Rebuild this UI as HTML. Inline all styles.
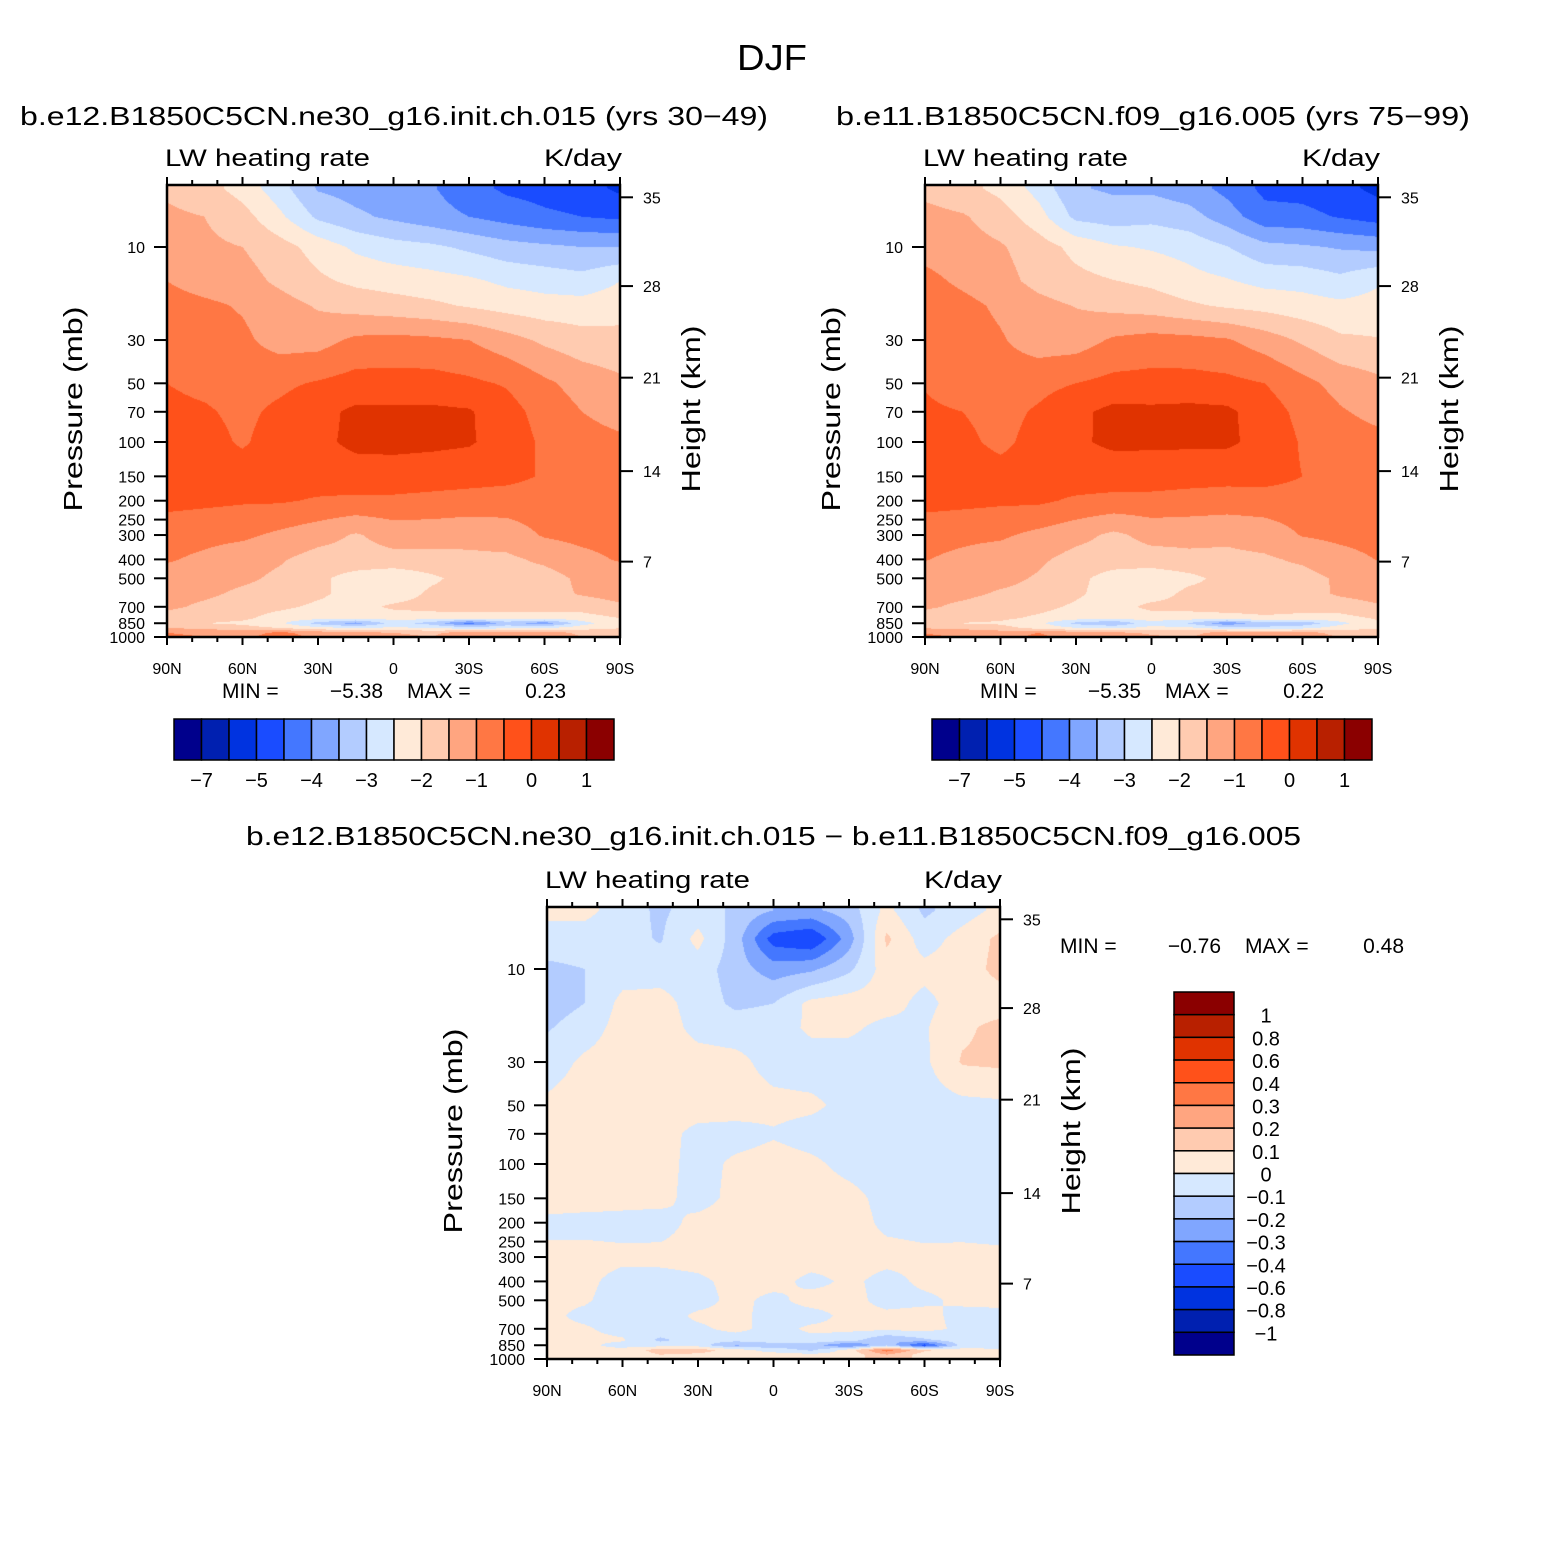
<!DOCTYPE html>
<html><head><meta charset="utf-8">
<style>
html,body{margin:0;padding:0;background:#fff;}
#wrap{position:relative;width:1547px;height:1544px;overflow:hidden;background:#fff;}
canvas{position:absolute;}
svg{position:absolute;left:0;top:0;}
text{font-family:"Liberation Sans",sans-serif;fill:#000;}
</style></head>
<body>
<div id="wrap">
<canvas id="c1"></canvas>
<canvas id="c2"></canvas>
<canvas id="c3"></canvas>
<svg id="ov" width="1547" height="1544"></svg>
</div>
<script>
// ---- data ----
const lats = [90,75,60,45,30,15,0,-15,-30,-45,-60,-75,-90];
const pressures = [5,7,10,15,20,30,50,70,100,150,200,300,400,500,600,700,800,850,900,950,1000];
const pTicks = [10,30,50,70,100,150,200,250,300,400,500,700,850,1000];
const zTicks = [7,14,21,28,35];
const latTicks = [90,60,30,0,-30,-60,-90];
const latTickLabels = ["90N","60N","30N","0","30S","60S","90S"];
const levelsAbs = [-7,-6,-5,-4.5,-4,-3.5,-3,-2.5,-2,-1.5,-1,-0.5,0,0.5,1];
const levelsAbsLabels = ["-7","","-5","","-4","","-3","","-2","","-1","","0","","1"];
const levelsDiff = [-1,-0.8,-0.6,-0.4,-0.3,-0.2,-0.1,0,0.1,0.2,0.3,0.4,0.6,0.8,1];
const levelsDiffLabels = ["-1","-0.8","-0.6","-0.4","-0.3","-0.2","-0.1","0","0.1","0.2","0.3","0.4","0.6","0.8","1"];
const colors = ["#00008c","#0020b0","#0033e0","#1a4cff","#4477ff","#80a6ff","#b3ccff","#d6e8ff","#ffead8","#ffcbb0","#ffa580","#ff7744","#ff511a","#e03300","#b82000","#8b0000"];
const case1 = [
[-1.6,-1.8,-2.2,-2.8,-3.55,-3.7,-3.8,-3.95,-4.3,-4.6,-4.7,-4.8,-5.1],
[-1.4,-1.5,-1.8,-2.4,-3.1,-3.4,-3.6,-3.8,-4.0,-4.2,-4.4,-4.5,-4.6],
[-1.3,-1.4,-1.5,-1.8,-2.2,-2.6,-2.8,-2.9,-3.1,-3.3,-3.4,-3.5,-3.5],
[-1.0,-1.2,-1.3,-1.6,-1.9,-2.1,-2.2,-2.3,-2.4,-2.6,-2.7,-2.8,-2.5],
[-0.8,-0.9,-1.05,-1.3,-1.55,-1.7,-1.8,-1.9,-2.05,-2.2,-2.3,-2.3,-2.2],
[-0.7,-0.75,-0.9,-1.2,-1.2,-0.9,-0.85,-0.9,-1.0,-1.3,-1.6,-1.8,-1.85],
[-0.5,-0.6,-0.7,-0.6,-0.45,-0.3,-0.3,-0.3,-0.4,-0.55,-0.9,-1.2,-1.4],
[-0.4,-0.45,-0.6,-0.4,-0.15,0.1,0.1,0.1,0.05,-0.3,-0.7,-1.0,-1.2],
[-0.3,-0.35,-0.55,-0.3,-0.1,0.1,0.12,0.1,0.05,-0.2,-0.6,-0.8,-0.9],
[-0.25,-0.25,-0.3,-0.3,-0.25,-0.2,-0.2,-0.25,-0.3,-0.35,-0.55,-0.7,-0.75],
[-0.35,-0.4,-0.45,-0.45,-0.55,-0.6,-0.6,-0.65,-0.7,-0.75,-0.75,-0.8,-0.85],
[-0.8,-0.85,-0.9,-1.1,-1.3,-1.55,-1.3,-1.3,-1.35,-1.25,-0.95,-0.85,-0.8],
[-0.95,-1.1,-1.3,-1.45,-1.7,-1.7,-1.65,-1.65,-1.6,-1.6,-1.4,-1.15,-0.95],
[-1.2,-1.3,-1.4,-1.6,-1.9,-2.2,-2.4,-2.1,-1.8,-1.7,-1.7,-1.4,-1.3],
[-1.3,-1.4,-1.6,-1.7,-1.9,-2.2,-2.3,-1.9,-1.8,-1.7,-1.7,-1.45,-1.3],
[-1.4,-1.6,-1.8,-1.9,-2.1,-2.2,-1.9,-1.8,-1.7,-1.7,-1.75,-1.8,-1.6],
[-1.7,-1.8,-1.9,-2.2,-2.3,-2.4,-2.3,-2.3,-2.3,-2.3,-2.3,-2.2,-2.0],
[-1.8,-2.0,-2.1,-2.4,-3.2,-3.7,-2.8,-3.2,-4.2,-3.3,-3.8,-2.7,-2.1],
[-1.5,-1.6,-1.8,-2.0,-2.3,-2.5,-2.4,-2.5,-2.7,-2.6,-2.5,-2.2,-2.0],
[-1.0,-1.1,-1.2,-0.9,-1.2,-1.4,-1.5,-1.6,-1.3,-1.2,-1.3,-1.6,-1.8],
[-0.9,-1.0,-1.1,-0.8,-1.1,-1.3,-1.4,-1.5,-1.2,-1.1,-1.2,-1.5,-1.7]];
const case2 = [
[-1.63,-1.83,-2.15,-2.68,-3.45,-3.58,-3.6,-3.78,-4.15,-4.63,-4.68,-4.85,-5.13],
[-1.35,-1.45,-1.74,-2.29,-3.13,-3.25,-3.15,-3.3,-3.75,-4.32,-4.35,-4.54,-4.72],
[-1.18,-1.3,-1.45,-1.75,-2.15,-2.45,-2.55,-2.68,-2.98,-3.35,-3.43,-3.55,-3.63],
[-0.85,-1.1,-1.33,-1.64,-1.85,-1.98,-2.1,-2.33,-2.45,-2.64,-2.67,-2.85,-2.55],
[-0.69,-0.85,-1.09,-1.35,-1.52,-1.65,-1.75,-1.92,-2.07,-2.17,-2.29,-2.38,-2.33],
[-0.65,-0.77,-0.95,-1.25,-1.24,-0.93,-0.81,-0.85,-0.95,-1.25,-1.58,-1.91,-1.97],
[-0.52,-0.65,-0.75,-0.65,-0.5,-0.35,-0.33,-0.32,-0.37,-0.5,-0.85,-1.17,-1.38],
[-0.45,-0.5,-0.65,-0.44,-0.12,0.14,0.11,0.14,0.1,-0.25,-0.65,-0.95,-1.15],
[-0.35,-0.4,-0.6,-0.34,-0.06,0.08,0.08,0.08,0.08,-0.15,-0.55,-0.75,-0.85],
[-0.29,-0.29,-0.33,-0.33,-0.21,-0.23,-0.25,-0.3,-0.33,-0.32,-0.5,-0.65,-0.7],
[-0.33,-0.37,-0.42,-0.41,-0.58,-0.65,-0.65,-0.7,-0.74,-0.73,-0.72,-0.76,-0.81],
[-0.82,-0.88,-0.92,-1.13,-1.34,-1.6,-1.35,-1.35,-1.39,-1.28,-0.97,-0.88,-0.82],
[-0.98,-1.12,-1.27,-1.41,-1.68,-1.73,-1.69,-1.62,-1.62,-1.57,-1.42,-1.18,-0.98],
[-1.22,-1.31,-1.36,-1.55,-1.86,-2.23,-2.37,-2.14,-1.83,-1.67,-1.68,-1.42,-1.32],
[-1.32,-1.38,-1.56,-1.65,-1.92,-2.23,-2.26,-1.86,-1.83,-1.72,-1.73,-1.42,-1.28],
[-1.42,-1.61,-1.77,-1.86,-2.08,-2.23,-1.86,-1.82,-1.72,-1.73,-1.78,-1.78,-1.57],
[-1.72,-1.82,-1.91,-2.08,-2.25,-2.34,-2.26,-2.27,-2.25,-2.1,-2.18,-2.16,-1.95],
[-1.83,-2.02,-2.07,-2.35,-3.15,-3.48,-2.65,-3.05,-3.88,-3.18,-3.35,-2.65,-2.05],
[-1.53,-1.63,-1.82,-2.15,-2.45,-2.55,-2.35,-2.38,-2.75,-2.95,-2.62,-2.23,-2.02],
[-1.02,-1.13,-1.23,-1.0,-1.28,-1.43,-1.55,-1.63,-1.33,-1.4,-1.35,-1.63,-1.82],
[-0.92,-1.03,-1.13,-0.9,-1.18,-1.33,-1.45,-1.53,-1.23,-1.3,-1.25,-1.53,-1.72]];
const diffVals = [
[0.03,0.03,-0.05,-0.12,-0.05,-0.12,-0.2,-0.22,-0.15,0.03,-0.12,-0.05,0.03],
[-0.05,-0.05,-0.06,-0.11,0.03,-0.15,-0.45,-0.5,-0.25,0.12,-0.05,0.04,0.12],
[-0.12,-0.1,-0.05,-0.05,-0.05,-0.15,-0.25,-0.22,-0.12,0.05,0.03,0.05,0.13],
[-0.15,-0.1,0.03,0.04,-0.05,-0.12,-0.1,0.03,0.05,0.04,-0.03,0.05,0.05],
[-0.11,-0.05,0.04,0.05,-0.03,-0.05,-0.05,0.02,0.02,-0.03,-0.01,0.08,0.13],
[-0.05,0.02,0.05,0.05,0.04,0.03,-0.04,-0.05,-0.05,-0.05,-0.02,0.11,0.12],
[0.02,0.05,0.05,0.05,0.05,0.05,0.03,0.02,-0.03,-0.05,-0.05,-0.03,-0.02],
[0.05,0.05,0.05,0.04,-0.03,-0.04,-0.01,-0.04,-0.05,-0.05,-0.05,-0.05,-0.05],
[0.05,0.05,0.05,0.04,-0.04,0.02,0.04,0.02,-0.03,-0.05,-0.05,-0.05,-0.05],
[0.04,0.04,0.03,0.03,-0.04,0.03,0.05,0.05,0.03,-0.03,-0.05,-0.05,-0.05],
[-0.02,-0.03,-0.03,-0.04,0.03,0.05,0.05,0.05,0.04,-0.02,-0.03,-0.04,-0.04],
[0.02,0.03,0.02,0.03,0.04,0.05,0.05,0.05,0.04,0.03,0.02,0.03,0.02],
[0.03,0.02,-0.03,-0.04,-0.02,0.03,0.04,-0.03,0.02,-0.03,0.02,0.03,0.03],
[0.02,0.01,-0.04,-0.05,-0.04,0.03,-0.03,0.04,0.03,-0.03,-0.02,0.02,0.02],
[0.02,-0.02,-0.04,-0.05,0.02,0.03,-0.04,-0.04,0.03,0.02,0.03,-0.03,-0.02],
[0.02,0.01,-0.03,-0.04,-0.02,0.03,-0.04,0.02,0.02,0.03,0.03,-0.02,-0.03],
[0.02,0.02,0.01,-0.12,-0.05,-0.06,-0.04,-0.03,-0.05,-0.2,-0.12,-0.04,-0.05],
[0.03,0.02,-0.03,-0.05,-0.05,-0.22,-0.15,-0.15,-0.32,-0.12,-0.45,-0.05,-0.05],
[0.03,0.03,0.02,0.15,0.15,0.05,-0.05,-0.12,0.05,0.35,0.12,0.03,0.02],
[0.02,0.03,0.03,0.1,0.08,0.03,0.05,0.03,0.03,0.2,0.05,0.03,0.02],
[0.02,0.03,0.03,0.1,0.08,0.03,0.05,0.03,0.03,0.2,0.05,0.03,0.02]];

// ---- layout ----
const NS = "http://www.w3.org/2000/svg";
const ov = document.getElementById('ov');
const PW = 453, PH = 452;
function xOf(p, lat){ return p.x0 + (90 - lat) / 180 * PW; }
function yOf(p, pr){ return p.y0 + PH - 195 * Math.log10(1000 / pr); }
function zToP(z){
  if (z <= 11) return 1013.25 * Math.pow(1 - 6.5 * z / 288.15, 5.2559);
  if (z <= 20) return 226.32 * Math.exp(-(z - 11) / 6.3416);
  return 54.75 * Math.pow(216.65 / (216.65 + (z - 20)), 34.163);
}
function el(tag, attrs, name, inter){
  const e = document.createElementNS(NS, tag);
  for (const k in attrs) e.setAttribute(k, attrs[k]);
  
  
  ov.appendChild(e);
  return e;
}
function txt(x, y, s, size, anchor, name, extra){
  const a = {x:x, y:y, 'font-size':size, 'text-anchor':anchor || 'start'};
  if (extra) for (const k in extra) a[k] = extra[k];
  const t = el('text', a, name, false);
  t.textContent = s.replace(/-/g, '\u2212');
  return t;
}
function bandIndex(v, levels){ let i = 0; while (i < levels.length && v > levels[i]) i++; return i; }

const logP = pressures.map(p => Math.log10(p));
function drawField(cid, p, grid, levels){
  const cv = document.getElementById(cid);
  cv.width = PW; cv.height = PH;
  cv.style.left = p.x0 + 'px'; cv.style.top = p.y0 + 'px';
  const ctx = cv.getContext('2d');
  const img = ctx.createImageData(PW, PH);
  const rgb = colors.map(c => [parseInt(c.substr(1,2),16), parseInt(c.substr(3,2),16), parseInt(c.substr(5,2),16)]);
  for (let py = 0; py < PH; py++){
    const lp = 3 - (PH - py - 0.5) / 195;
    let r = 0;
    while (r < logP.length - 2 && lp > logP[r+1]) r++;
    let fr = (lp - logP[r]) / (logP[r+1] - logP[r]);
    fr = Math.max(0, Math.min(1, fr));
    for (let px = 0; px < PW; px++){
      const fc = (px + 0.5) / PW * (lats.length - 1);
      let c = Math.min(lats.length - 2, Math.floor(fc));
      const fx = fc - c;
      const v = (grid[r][c] * (1 - fx) + grid[r][c+1] * fx) * (1 - fr) + (grid[r+1][c] * (1 - fx) + grid[r+1][c+1] * fx) * fr;
      const col = rgb[bandIndex(v, levels)];
      const o = (py * PW + px) * 4;
      img.data[o] = col[0]; img.data[o+1] = col[1]; img.data[o+2] = col[2]; img.data[o+3] = 255;
    }
  }
  ctx.putImageData(img, 0, 0);
}

function drawAxes(p, prefix){
  const L = p.x0, T = p.y0, R = p.x0 + PW, B = p.y0 + PH;
  el('rect', {x:L, y:T, width:PW, height:PH, fill:'none', stroke:'#000', 'stroke-width':2.5}, prefix + '-plot-frame', false);
  for (let lat = 90; lat >= -90; lat -= 10){
    const x = xOf(p, lat), major = lat % 30 === 0, len = major ? 8 : 5;
    el('line', {x1:x, y1:B, x2:x, y2:B + len, stroke:'#000', 'stroke-width':2}, prefix + '-x-tick', false);
    el('line', {x1:x, y1:T, x2:x, y2:T - len, stroke:'#000', 'stroke-width':2}, prefix + '-x-tick-top', false);
  }
  latTicks.forEach((lat, i) => txt(xOf(p, lat), B + 37, latTickLabels[i], 16, 'middle', prefix + '-x-tick-label'));
  pTicks.forEach(pr => {
    const y = yOf(p, pr);
    el('line', {x1:L - 13, y1:y, x2:L, y2:y, stroke:'#000', 'stroke-width':2}, prefix + '-y-tick', false);
    txt(L - 22, y + 6, String(pr), 16, 'end', prefix + '-y-tick-label');
  });
  zTicks.forEach(z => {
    const y = yOf(p, zToP(z));
    el('line', {x1:R, y1:y, x2:R + 13, y2:y, stroke:'#000', 'stroke-width':2}, prefix + '-height-tick', false);
    txt(R + 23, y + 6, String(z), 16, 'start', prefix + '-height-tick-label');
  });
  txt(L - 2, T - 19, 'LW heating rate', 24, 'start', prefix + '-variable-label', {textLength:205, lengthAdjust:'spacingAndGlyphs'});
  txt(R + 2, T - 19, 'K/day', 24, 'end', prefix + '-units-label', {textLength:78, lengthAdjust:'spacingAndGlyphs'});
  const cy = T + PH / 2 - 2;
  txt(L - 85, cy, 'Pressure (mb)', 26, 'middle', prefix + '-y-axis-title', {transform:'rotate(-90 ' + (L - 85) + ' ' + cy + ')', textLength:205, lengthAdjust:'spacingAndGlyphs'});
  txt(R + 80, cy, 'Height (km)', 26, 'middle', prefix + '-height-axis-title', {transform:'rotate(-90 ' + (R + 80) + ' ' + cy + ')', textLength:167, lengthAdjust:'spacingAndGlyphs'});
}

function hColorbar(x0, y0, w, h, prefix){
  const bw = w / colors.length;
  colors.forEach((c, i) => {
    el('rect', {x:x0 + i * bw, y:y0, width:bw, height:h, fill:c, stroke:'#000', 'stroke-width':1.5}, prefix + '-colorbar-box', false);
  });
  levelsAbsLabels.forEach((s, i) => { if (s) txt(x0 + (i + 1) * bw, y0 + 68, s, 20, 'middle', prefix + '-colorbar-label'); });
}
function vColorbar(x0, y0, w, h){
  const bh = h / colors.length;
  colors.slice().reverse().forEach((c, i) => {
    el('rect', {x:x0, y:y0 + i * bh, width:w, height:bh, fill:c, stroke:'#000', 'stroke-width':1.5}, 'diff-colorbar-box', false);
  });
  levelsDiffLabels.slice().reverse().forEach((s, i) => txt(x0 + 92, y0 + (i + 1) * bh + 8, s, 20, 'middle', 'diff-colorbar-label'));
}

const P1 = {x0:167, y0:185}, P2 = {x0:925, y0:185}, P3 = {x0:547, y0:907};
drawField('c1', P1, case1, levelsAbs);
drawField('c2', P2, case2, levelsAbs);
drawField('c3', P3, diffVals, levelsDiff);
drawAxes(P1, 'case1');
drawAxes(P2, 'case2');
drawAxes(P3, 'diff');

txt(772, 70, 'DJF', 36, 'middle', 'figure-title', {textLength:70, lengthAdjust:'spacingAndGlyphs'});
txt(20, 125, 'b.e12.B1850C5CN.ne30_g16.init.ch.015 (yrs 30-49)', 26, 'start', 'case1-title', {textLength:748, lengthAdjust:'spacingAndGlyphs'});
txt(836, 125, 'b.e11.B1850C5CN.f09_g16.005 (yrs 75-99)', 26, 'start', 'case2-title', {textLength:634, lengthAdjust:'spacingAndGlyphs'});
txt(246, 845, 'b.e12.B1850C5CN.ne30_g16.init.ch.015 - b.e11.B1850C5CN.f09_g16.005', 26, 'start', 'diff-title', {textLength:1055, lengthAdjust:'spacingAndGlyphs'});

function minmax(x, y, mn, mx, prefix){
  txt(x, y, 'MIN =', 21, 'start', prefix + '-min-label');
  txt(x + 161, y, mn, 21, 'end', prefix + '-min-value');
  txt(x + 185, y, 'MAX =', 21, 'start', prefix + '-max-label');
  txt(x + 344, y, mx, 21, 'end', prefix + '-max-value');
}
minmax(222, 698, '-5.38', '0.23', 'case1');
minmax(980, 698, '-5.35', '0.22', 'case2');
minmax(1060, 953, '-0.76', '0.48', 'diff');

hColorbar(174, 719, 440, 41, 'case1');
hColorbar(932, 719, 440, 41, 'case2');
vColorbar(1174, 992, 60, 363);
</script>
</body></html>
